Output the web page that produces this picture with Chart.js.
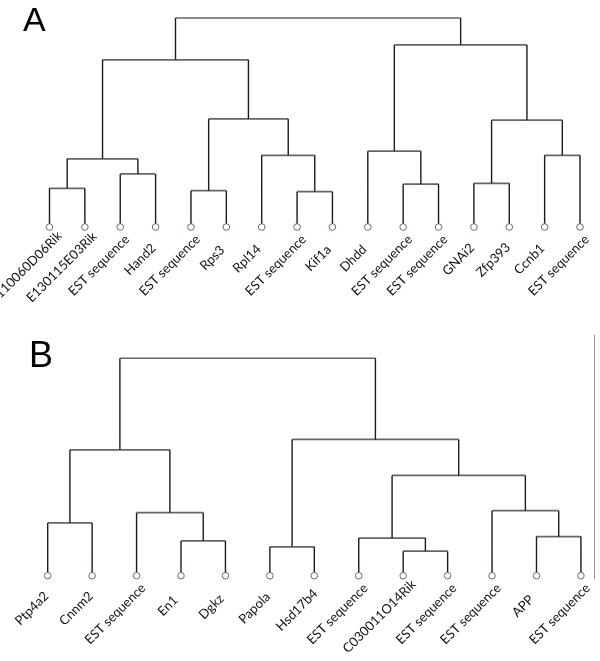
<!DOCTYPE html>
<html>
<head>
<meta charset="utf-8">
<script src="https://cdn.jsdelivr.net/npm/chart.js@4.4.1/dist/chart.umd.min.js"></script>
<style>
    html, body { margin: 0; padding: 0; background: #fff; }
    canvas { display: block; }
</style>
</head>
<body>
<canvas id="chartA" width="600" height="330"></canvas>
<canvas id="chartB" width="600" height="331"></canvas>
<script>
// ==================== DATA ====================
// Panel A leaves (left to right)
const leavesA = ['1110060D06Rik', 'E130115E03Rik', 'EST sequence', 'Hand2', 'EST sequence', 'Rps3',
    'Rpl14', 'EST sequence', 'Kif1a', 'Dhdd', 'EST sequence', 'EST sequence',
    'GNAi2', 'Zfp393', 'Ccnb1', 'EST sequence'];
// merges: [left node, right node, height]; merge k makes node (leaves.length + k)
const mergesA = [
    [0, 1, 0.185],    // 16
    [2, 3, 0.254],    // 17
    [16, 17, 0.326],  // 18
    [4, 5, 0.174],    // 19
    [7, 8, 0.169],    // 20
    [6, 20, 0.343],   // 21
    [19, 21, 0.517],  // 22
    [18, 22, 0.800],  // 23
    [10, 11, 0.205],  // 24
    [9, 24, 0.363],   // 25
    [12, 13, 0.209],  // 26
    [14, 15, 0.343],  // 27
    [26, 27, 0.511],  // 28
    [25, 28, 0.871],  // 29
    [23, 29, 1.000]   // 30
];

// Panel B leaves
const leavesB = ['Ptp4a2', 'Cnnm2', 'EST sequence', 'En1', 'Dgkz', 'Papola', 'Hsd17b4',
    'EST sequence', 'C030011O14Rik', 'EST sequence', 'EST sequence', 'APP', 'EST sequence'];
const mergesB = [
    [0, 1, 0.243],    // 13
    [3, 4, 0.160],    // 14
    [2, 14, 0.290],   // 15
    [13, 15, 0.579],  // 16
    [5, 6, 0.133],    // 17
    [8, 9, 0.113],    // 18
    [7, 18, 0.173],   // 19
    [11, 12, 0.180],  // 20
    [10, 20, 0.299],  // 21
    [19, 21, 0.461],  // 22
    [17, 22, 0.627],  // 23
    [16, 23, 1.000]   // 24
];

// ==================== TREE -> LINE SEGMENTS ====================
function buildTree(leaves, merges) {
    const nodeX = leaves.map((_, i) => i);
    const nodeH = leaves.map(() => 0);
    const verticals = [], horizontals = [];
    merges.forEach(([a, b, h]) => {
        verticals.push({ x: nodeX[a], y: nodeH[a] }, { x: nodeX[a], y: h }, { x: nodeX[a], y: null });
        verticals.push({ x: nodeX[b], y: nodeH[b] }, { x: nodeX[b], y: h }, { x: nodeX[b], y: null });
        horizontals.push({ x: nodeX[a], y: h }, { x: nodeX[b], y: h }, { x: nodeX[b], y: null });
        nodeX.push((nodeX[a] + nodeX[b]) / 2);
        nodeH.push(h);
    });
    const leafPts = leaves.map((_, i) => ({ x: i, y: 0 }));
    return { verticals, horizontals, leafPts };
}

// leaf names + panel letter, placed through the chart scales
const leafLabels = {
    id: 'leafLabels',
    afterDatasetsDraw(chart, args, opts) {
        const { ctx, scales: { x, y } } = chart;
        ctx.save();
        ctx.fillStyle = '#111';
        ctx.font = '13px Lato, "Open Sans", sans-serif';
        ctx.textAlign = 'right';
        ctx.textBaseline = 'middle';
        opts.names.forEach((name, i) => {
            const w = ctx.measureText(name).width;
            ctx.save();
            // labels hang under the leaf, about a third of their length past it
            ctx.translate(x.getPixelForValue(i) - 10, y.getPixelForValue(0) + 27);
            ctx.rotate(-Math.PI / 4);
            ctx.fillText(name, 0.3 * w, 0);
            ctx.restore();
        });
        ctx.font = opts.letterFont;
        ctx.textAlign = 'left';
        ctx.textBaseline = 'alphabetic';
        ctx.fillStyle = '#000';
        ctx.fillText(opts.letter, opts.letterX, opts.letterY);
        ctx.restore();
    }
};

function makeDendrogram(canvasId, leaves, merges, cfg) {
    const tree = buildTree(leaves, merges);
    return new Chart(document.getElementById(canvasId), {
        type: 'scatter',
        data: {
            datasets: [
                { data: tree.leafPts, showLine: false, pointRadius: 3.3, pointBorderWidth: 1,
                  pointBorderColor: '#5a7566', pointBackgroundColor: '#fff', clip: false, order: 0 },
                { data: tree.verticals, showLine: true, spanGaps: false, pointRadius: 0,
                  borderColor: '#1c1c1c', borderWidth: 1.4, clip: false, order: 1 },
                { data: tree.horizontals, showLine: true, spanGaps: false, pointRadius: 0,
                  borderColor: '#666', borderWidth: 1.7, clip: false, order: 2 }
            ]
        },
        options: {
            responsive: false,
            animation: false,
            events: [],
            layout: { padding: cfg.padding },
            scales: {
                x: { type: 'linear', min: 0, max: cfg.xMax, display: false },
                y: cfg.yAxis
            },
            plugins: {
                legend: { display: false },
                tooltip: { enabled: false },
                leafLabels: { names: leaves, letter: cfg.letter, letterFont: cfg.letterFont,
                              letterX: cfg.letterX, letterY: cfg.letterY }
            }
        },
        plugins: [leafLabels]
    });
}

makeDendrogram('chartA', leavesA, mergesA, {
    padding: { left: 49.5, right: 20, top: 18, bottom: 103 },
    xMax: leavesA.length - 1,
    yAxis: { type: 'linear', min: 0, max: 1, display: false },
    letter: 'A', letterFont: '34px "Liberation Sans", Arial, sans-serif', letterX: 23, letterY: 31
});

// B has a thin grey bar on the right edge, drawn as the y axis border
makeDendrogram('chartB', leavesB, mergesB, {
    padding: { left: 47.7, right: 5.3, top: 4, bottom: 83 },
    xMax: 12.31,
    yAxis: { type: 'linear', min: -0.0105, max: 1.107, position: 'right',
             grid: { display: false, drawTicks: false }, ticks: { display: false },
             border: { display: true, color: '#999', width: 1 } },
    letter: 'B', letterFont: '36px "Liberation Sans", Arial, sans-serif', letterX: 29, letterY: 37
});
</script>
</body>
</html>
